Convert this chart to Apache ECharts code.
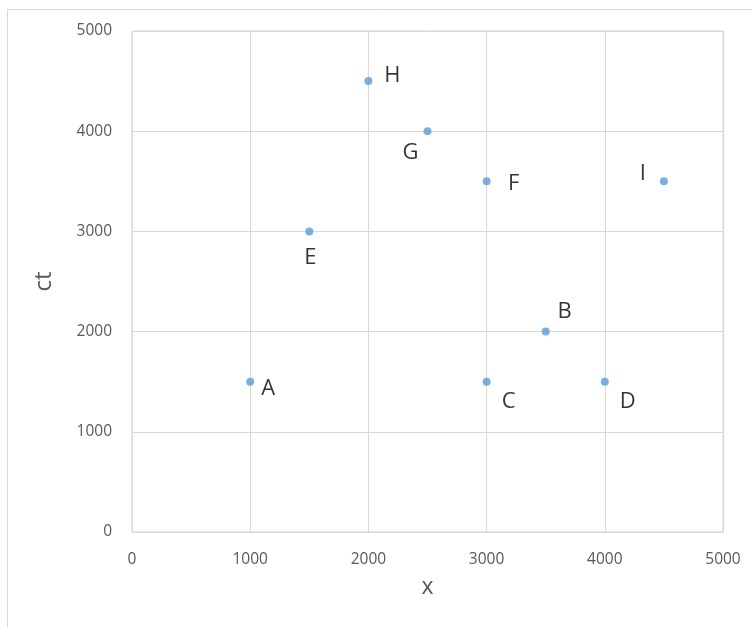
<!DOCTYPE html>
<html><head><meta charset="utf-8">
<script src="https://cdn.jsdelivr.net/npm/echarts@6/dist/echarts.min.js"></script>
<style>html,body{margin:0;padding:0;background:#fff}#c{width:752px;height:627px}</style>
</head><body><div id="c"></div>
<script>
const names = ['A','B','C','D','E','F','G','H','I'];
const xValues = [1000,3500,3000,4000,1500,3000,2500,2000,4500];
const ctValues = [1500,2000,1500,1500,3000,3500,4000,4500,3500];
const labelOffsets = [[18,7],[19,-20],[22,20],[23,20],[1,26],[27,2],[-17,22],[24,-5],[-21,-8]];

const chart = echarts.init(document.getElementById('c'), null, {renderer:'canvas'});
const font = '"Open Sans", "Noto Sans", sans-serif';
chart.setOption({
  animation:false,
  graphic:[{type:'rect',shape:{x:7.5,y:9.5,width:760,height:640},style:{fill:'none',stroke:'#d9d9d9',lineWidth:1},z:-1}],
  grid:{left:132,top:31,right:29,bottom:95,show:true,borderColor:'#d0d0d0',borderWidth:1},
  xAxis:{type:'value',min:0,max:5000,interval:1000,name:'x',nameLocation:'middle',nameGap:44,
    nameTextStyle:{fontFamily:font,fontSize:23,color:'#595959'},
    axisLine:{show:false},axisTick:{show:false},
    axisLabel:{fontFamily:font,fontSize:15.5,color:'#595959',margin:20,formatter:v=>String(v)},
    splitLine:{lineStyle:{color:'#d9d9d9'}}},
  yAxis:{type:'value',min:0,max:5000,interval:1000,name:'ct',nameLocation:'middle',nameGap:76,
    nameTextStyle:{fontFamily:font,fontSize:24,color:'#595959'},
    axisLine:{show:false},axisTick:{show:false},
    axisLabel:{fontFamily:font,fontSize:15.5,color:'#595959',margin:20,formatter:v=>String(v)},
    splitLine:{lineStyle:{color:'#d9d9d9'}}},
  series:[{type:'scatter',symbolSize:8,itemStyle:{color:'#5b9bd5'},
    data:names.map((n,i)=>({value:[xValues[i],ctValues[i]],name:n,
      label:{show:true,position:'inside',offset:labelOffsets[i],formatter:n,
        fontFamily:font,fontSize:22,color:'#000'}}))}]
});
</script></body></html>
